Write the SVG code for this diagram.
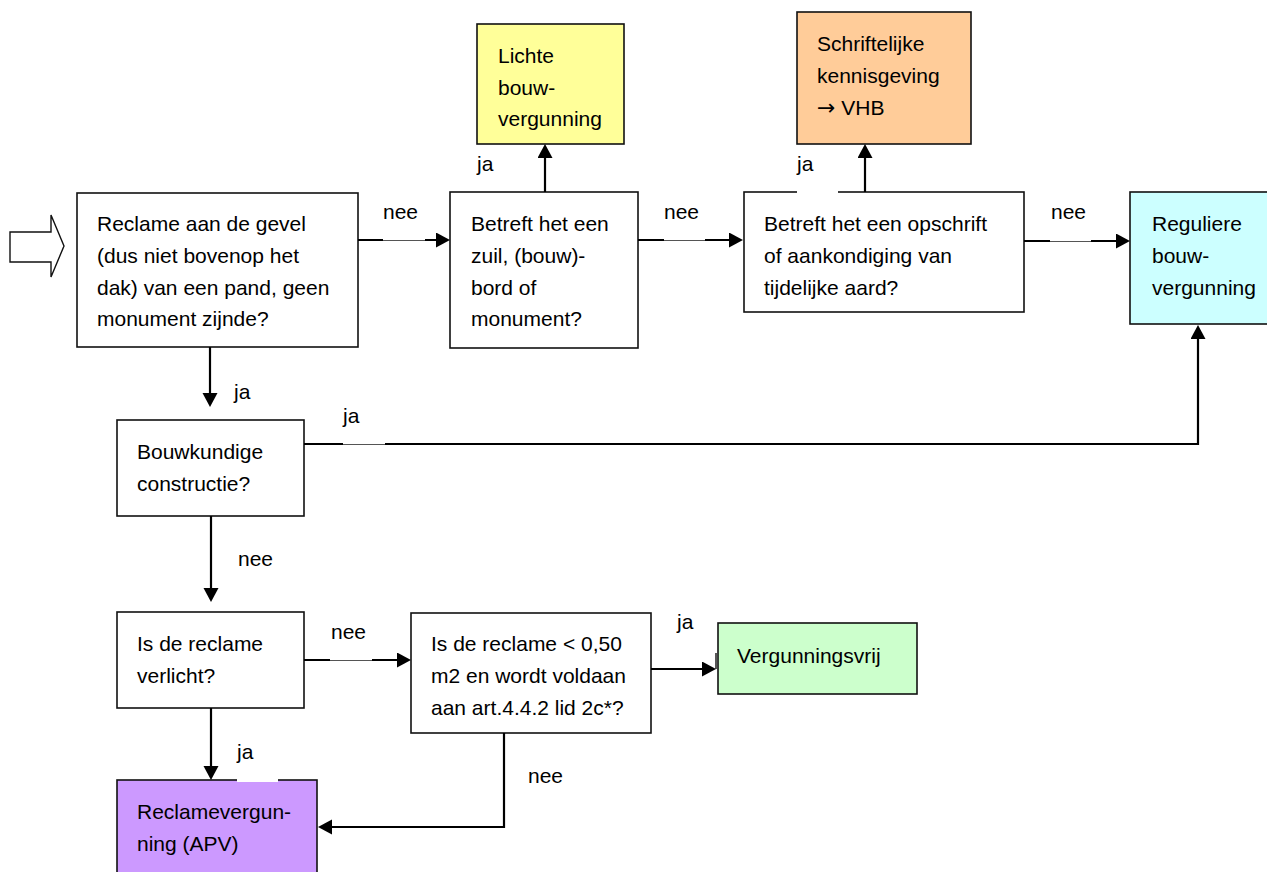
<svg xmlns="http://www.w3.org/2000/svg" width="1267" height="872" viewBox="0 0 1267 872">
<style>
.box{stroke:#111;stroke-width:1.6}
.t{font-family:"Liberation Sans",Arial,sans-serif;font-size:21px;fill:#000}
.c{fill:none;stroke:#000;stroke-width:2.2}
.thin{stroke:#555;stroke-width:1}
.gap{fill:#fff;stroke:none}
</style>
<defs>
<marker id="ah" markerUnits="userSpaceOnUse" markerWidth="16" markerHeight="16" refX="1" refY="7.5" orient="auto">
<path d="M0,0 L14,7.5 L0,15 z" fill="#000"/>
</marker>
</defs>
<rect width="1267" height="872" fill="#fff"/>

<g id="start">
<polygon points="10,232 51,232 51,215 64,246 51,277 51,262 10,262" fill="#fff" stroke="#111" stroke-width="1.4"/>
</g>

<g id="n1">
<rect class="box" x="77" y="193" width="281" height="154" fill="#fff"/>
<text class="t" x="97" y="231">Reclame aan de gevel</text>
<text class="t" x="97" y="263">(dus niet bovenop het</text>
<text class="t" x="97" y="295">dak) van een pand, geen</text>
<text class="t" x="97" y="326">monument zijnde?</text>
</g>

<g id="n2">
<rect class="box" x="450" y="192" width="188" height="156" fill="#fff"/>
<text class="t" x="471" y="231">Betreft het een</text>
<text class="t" x="471" y="263">zuil, (bouw)-</text>
<text class="t" x="471" y="295">bord of</text>
<text class="t" x="471" y="326">monument?</text>
</g>

<g id="n3">
<rect class="box" x="477" y="24" width="147" height="120" fill="#ffff99"/>
<text class="t" x="498" y="63">Lichte</text>
<text class="t" x="498" y="95">bouw-</text>
<text class="t" x="498" y="126">vergunning</text>
</g>

<g id="n4">
<rect class="box" x="744" y="192" width="280" height="120" fill="#fff"/>
<text class="t" x="764" y="231">Betreft het een opschrift</text>
<text class="t" x="764" y="263">of aankondiging van</text>
<text class="t" x="764" y="295">tijdelijke aard?</text>
<rect class="gap" x="797" y="190" width="41" height="4"/>
</g>

<g id="n5">
<rect class="box" x="797" y="12" width="174" height="132" fill="#ffcc99"/>
<text class="t" x="817" y="51">Schriftelijke</text>
<text class="t" x="817" y="83">kennisgeving</text>
<text class="t" x="817" y="115"><tspan font-family="'DejaVu Sans',sans-serif" font-size="22">→</tspan> VHB</text>
</g>

<g id="n6">
<rect class="box" x="1130" y="192" width="150" height="132" fill="#ccffff"/>
<text class="t" x="1152" y="231">Reguliere</text>
<text class="t" x="1152" y="263">bouw-</text>
<text class="t" x="1152" y="295">vergunning</text>
</g>

<g id="n7">
<rect class="box" x="117" y="420" width="187" height="96" fill="#fff"/>
<text class="t" x="137" y="459">Bouwkundige</text>
<text class="t" x="137" y="491">constructie?</text>
</g>

<g id="n8">
<rect class="box" x="117" y="612" width="187" height="96" fill="#fff"/>
<text class="t" x="137" y="651">Is de reclame</text>
<text class="t" x="137" y="683">verlicht?</text>
</g>

<g id="n9">
<rect class="box" x="411" y="613" width="240" height="120" fill="#fff"/>
<text class="t" x="431" y="651">Is de reclame &lt; 0,50</text>
<text class="t" x="431" y="683">m2 en wordt voldaan</text>
<text class="t" x="431" y="715">aan art.4.4.2 lid 2c*?</text>
</g>

<g id="n10">
<rect class="box" x="718" y="623" width="199" height="71" fill="#ccffcc"/>
<line x1="716" y1="653" x2="716" y2="669" stroke="#111" stroke-width="1.4"/>
<text class="t" x="737" y="663">Vergunningsvrij</text>
</g>

<g id="n11">
<rect class="box" x="117" y="780" width="200" height="100" fill="#cc99ff"/>
<rect class="gap" x="237" y="778" width="41" height="4"/>
<text class="t" x="137" y="819">Reclamevergun-</text>
<text class="t" x="137" y="851">ning (APV)</text>
</g>

<g id="connectors">
<line class="c" x1="358" y1="240" x2="437" y2="240" marker-end="url(#ah)"/>
<rect class="gap" x="383" y="238" width="42" height="4"/>
<line class="thin" x1="383" y1="240.5" x2="425" y2="240.5"/>
<text class="t" x="383" y="219">nee</text>

<line class="c" x1="638" y1="240" x2="730" y2="240" marker-end="url(#ah)"/>
<rect class="gap" x="664" y="238" width="41" height="4"/>
<line class="thin" x1="664" y1="240.5" x2="705" y2="240.5"/>
<text class="t" x="664" y="219">nee</text>

<line class="c" x1="1024" y1="241" x2="1117" y2="241" marker-end="url(#ah)"/>
<rect class="gap" x="1050" y="239" width="41" height="4"/>
<line class="thin" x1="1050" y1="241.5" x2="1091" y2="241.5"/>
<text class="t" x="1051" y="219">nee</text>

<line class="c" x1="545" y1="192" x2="545" y2="157" marker-end="url(#ah)"/>
<text class="t" x="477" y="171">ja</text>

<line class="c" x1="865" y1="192" x2="865" y2="157" marker-end="url(#ah)"/>
<text class="t" x="797" y="171">ja</text>

<line class="c" x1="210" y1="347" x2="210" y2="394" marker-end="url(#ah)"/>
<text class="t" x="234" y="399">ja</text>

<polyline class="c" points="304,444 1198,444 1198,338" marker-end="url(#ah)"/>
<rect class="gap" x="343" y="442" width="42" height="4"/>
<line class="thin" x1="343" y1="444.5" x2="385" y2="444.5"/>
<text class="t" x="343" y="423">ja</text>

<line class="c" x1="211" y1="516" x2="211" y2="589" marker-end="url(#ah)"/>
<text class="t" x="238" y="566">nee</text>

<line class="c" x1="304" y1="660" x2="398" y2="660" marker-end="url(#ah)"/>
<rect class="gap" x="330" y="658" width="42" height="4"/>
<line class="thin" x1="330" y1="660.5" x2="372" y2="660.5"/>
<text class="t" x="331" y="639">nee</text>

<line class="c" x1="651" y1="669" x2="703" y2="669" marker-end="url(#ah)"/>
<text class="t" x="677" y="629">ja</text>

<line class="c" x1="211" y1="708" x2="211" y2="767" marker-end="url(#ah)"/>
<text class="t" x="237" y="759">ja</text>

<polyline class="c" points="504,733 504,827 331,827" marker-end="url(#ah)"/>
<text class="t" x="528" y="783">nee</text>
</g>
</svg>
